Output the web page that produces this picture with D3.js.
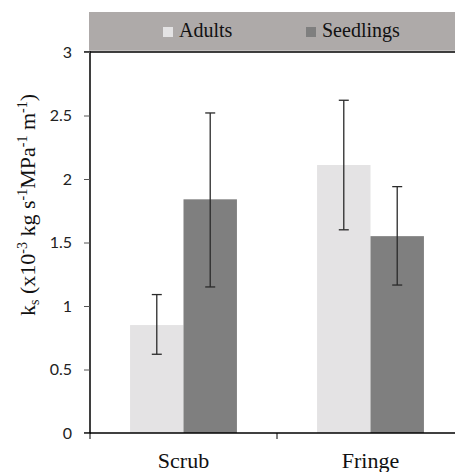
<!DOCTYPE html>
<html><head><meta charset="utf-8">
<script src="https://cdn.jsdelivr.net/npm/d3@7"></script>
<style>body{margin:0;background:#fff;overflow:hidden}svg{display:block}</style>
</head><body>
<script>
const categories = ["Scrub", "Fringe"];
const seriesNames = ["Adults", "Seedlings"];
const adultsMean = [0.85, 2.11];
const adultsLow = [0.62, 1.60];
const adultsHigh = [1.09, 2.62];
const seedlingsMean = [1.84, 1.55];
const seedlingsLow = [1.15, 1.165];
const seedlingsHigh = [2.52, 1.94];
const yTicks = [0, 0.5, 1, 1.5, 2, 2.5, 3];
const colors = ["#e4e3e4", "#7f7f7f"];

const W = 455, H = 472;
const svg = d3.select("body").append("svg").attr("width", W).attr("height", H);
const x0 = d3.scaleBand().domain(categories).range([90, 464]).paddingInner(0).paddingOuter(0);
const x1 = d3.scaleBand().domain(seriesNames).range([0, x0.bandwidth()]).paddingInner(0).paddingOuter(0.75);
const y = d3.scaleLinear().domain([0, 3]).range([433, 52]);

// header band
svg.append("rect").attr("x", 89).attr("y", 12).attr("width", W - 89).attr("height", 39).attr("fill", "#aeaaa9");
svg.append("line").attr("x1", 89).attr("x2", W).attr("y1", 51).attr("y2", 51).attr("stroke", "#d8d6d5").attr("stroke-width", 1);

const data = categories.map((c, i) => ({c, vals: [
  {s: seriesNames[0], m: adultsMean[i], lo: adultsLow[i], hi: adultsHigh[i]},
  {s: seriesNames[1], m: seedlingsMean[i], lo: seedlingsLow[i], hi: seedlingsHigh[i]}]}));

const g = svg.selectAll("g.cat").data(data).enter().append("g").attr("transform", d => `translate(${x0(d.c)},0)`);
g.selectAll("rect").data(d => d.vals).enter().append("rect")
  .attr("x", d => x1(d.s)).attr("width", x1.bandwidth())
  .attr("y", d => y(d.m)).attr("height", d => y(0) - y(d.m))
  .attr("fill", (d, i) => colors[i]);
const eb = g.selectAll("g.err").data(d => d.vals).enter().append("g")
  .attr("transform", d => `translate(${x1(d.s) + x1.bandwidth() / 2},0)`);
eb.append("line").attr("x1", 0).attr("x2", 0).attr("y1", d => y(d.lo)).attr("y2", d => y(d.hi)).attr("stroke", "#2a2a2a").attr("stroke-width", 1.3);
eb.append("line").attr("x1", -5).attr("x2", 5).attr("y1", d => y(d.lo)).attr("y2", d => y(d.lo)).attr("stroke", "#2a2a2a").attr("stroke-width", 1.3);
eb.append("line").attr("x1", -5).attr("x2", 5).attr("y1", d => y(d.hi)).attr("y2", d => y(d.hi)).attr("stroke", "#2a2a2a").attr("stroke-width", 1.3);

// top border line
svg.append("line").attr("x1", 90).attr("x2", W).attr("y1", y(3)).attr("y2", y(3)).attr("stroke", "#000").attr("stroke-width", 1.5);

// y axis
const ya = svg.append("g").attr("transform", "translate(90,0)")
  .call(d3.axisLeft(y).tickValues(yTicks).tickSize(6).tickPadding(12).tickFormat(d3.format("")));
ya.select(".domain").attr("stroke", "#000").attr("stroke-width", 1.5).attr("d", `M-6,${y(3)}H0V${y(0)}H-6`);
ya.selectAll(".tick line").attr("stroke", "#555");
ya.selectAll(".tick text").attr("font-family", "Lato, 'Open Sans', sans-serif").attr("font-size", 16).attr("fill", "#222");

// x axis
svg.append("line").attr("x1", 90).attr("x2", W).attr("y1", y(0)).attr("y2", y(0)).attr("stroke", "#000").attr("stroke-width", 1.5);
categories.forEach(c => {
  const xe = x0(c);
  svg.append("line").attr("x1", xe).attr("x2", xe).attr("y1", y(0)).attr("y2", y(0) + 6).attr("stroke", "#000").attr("stroke-width", 1);
});
svg.selectAll("text.cat").data(categories).enter().append("text")
  .attr("x", d => x0(d) + x0.bandwidth() / 2).attr("y", 468)
  .attr("text-anchor", "middle").attr("font-family", "'Liberation Serif', serif").attr("font-size", 22).attr("fill", "#111")
  .text(d => d);

// y title
const t = svg.append("text").attr("transform", "translate(35,205) rotate(-90)")
  .attr("text-anchor", "middle").attr("font-family", "'Liberation Serif', serif").attr("font-size", 22).attr("fill", "#111");
t.append("tspan").text("k");
t.append("tspan").attr("font-size", 14).attr("dy", 4).text("s");
t.append("tspan").attr("dy", -4).text(" (x10");
t.append("tspan").attr("font-size", 14).attr("dy", -8).text("-3");
t.append("tspan").attr("dy", 8).text(" kg s");
t.append("tspan").attr("font-size", 14).attr("dy", -8).text("-1");
t.append("tspan").attr("dy", 8).text("MPa");
t.append("tspan").attr("font-size", 14).attr("dy", -8).text("-1");
t.append("tspan").attr("dy", 8).text(" m");
t.append("tspan").attr("font-size", 14).attr("dy", -8).text("-1");
t.append("tspan").attr("dy", 8).text(")");

// legend
const legX = [163, 306];
seriesNames.forEach((s, i) => {
  svg.append("rect").attr("x", legX[i]).attr("y", 27).attr("width", 10).attr("height", 10).attr("fill", colors[i]);
  svg.append("text").attr("x", legX[i] + 16).attr("y", 37).attr("font-family", "'Liberation Serif', serif").attr("font-size", 20).attr("fill", "#111").text(s);
});
</script>
</body></html>
